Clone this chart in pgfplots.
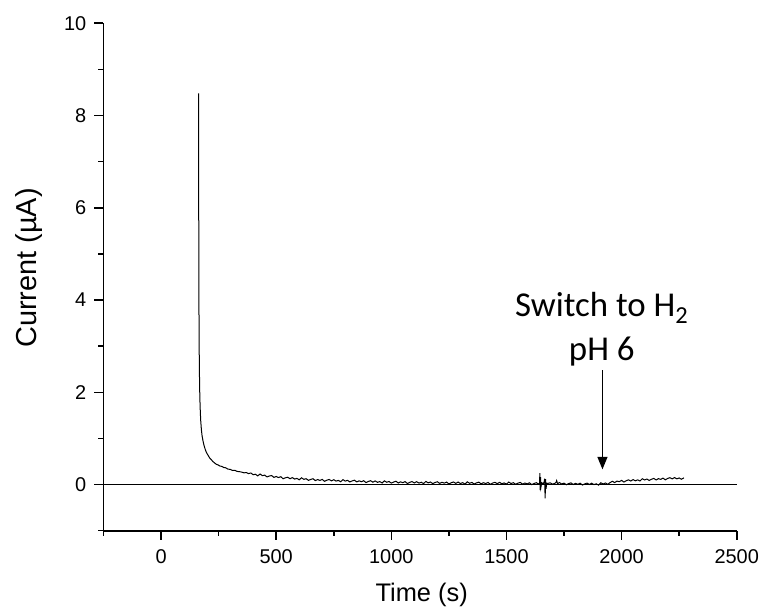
\documentclass[border=0pt]{standalone}
\usepackage{pgfplots}
\pgfplotsset{compat=1.18}
\usetikzlibrary{arrows.meta}
\usepackage{fontspec}
\setmainfont{Liberation Sans}
\newfontfamily\calibri{Carlito}
\begin{document}
\begin{tikzpicture}
\useasboundingbox (0,0) rectangle (763bp,607bp);
\begin{axis}[
  at={(103.5bp,76.3bp)}, anchor=south west,
  scale only axis, width=633.2bp, height=507.4bp,
  xmin=-250, xmax=2500, ymin=-1, ymax=10,
  axis lines=left,
  x axis line style={-, line width=1.8bp, black},
  y axis line style={-, line width=1.8bp, black},
  tick align=outside,
  every tick/.style={line width=1.6bp, black},
  major tick length=9bp, minor tick length=5bp,
  xtick={0,500,...,2500}, minor xtick={-250,250,...,2250},
  ytick={0,2,...,10}, minor ytick={-1,1,...,9},
  xticklabel={\fontsize{20}{24}\selectfont\pgfmathprintnumber[assume math mode=true,set thousands separator={}]{\tick}},
  yticklabel={\fontsize{20}{24}\selectfont\pgfmathprintnumber[assume math mode=true]{\tick}},
  xticklabel style={inner sep=0pt, anchor=north, yshift=-10bp},
  yticklabel style={inner sep=0pt, anchor=east, xshift=-8bp},
  scaled ticks=false,
  clip=false,
]
\addplot[black, line width=1.7bp] coordinates {(-250,0) (2500,0)};
\addplot[black, line width=1bp] coordinates {
(163,8.48) (163.4,6.8) (163.8,5.2) (164.3,4.2) (165,3.4) (166,2.7) (167.5,2.1) (169.5,1.7)
(172,1.4) (175,1.2) (178,1.06) (182,0.95) (186,0.86) (190,0.79) (195,0.72) (200,0.67)
(206,0.62) (212,0.57) (218,0.54) (225,0.50) (232,0.47) (240,0.44) (248,0.425) (256,0.40)
(264,0.395) (272,0.37) (280,0.365) (290,0.335) (300,0.33) (310,0.305) (320,0.31) (330,0.285)
(340,0.28) (350,0.27) (360,0.255) (370,0.26) (380,0.238)
(390,0.251) (400,0.213) (410,0.224) (420,0.188) (430,0.229) (440,0.193) (450,0.205) (460,0.166)
(470,0.185) (480,0.196) (490,0.155) (500,0.175) (510,0.152) (520,0.171) (530,0.126) (540,0.147)
(550,0.159) (560,0.127) (570,0.152) (580,0.119) (590,0.134) (600,0.103) (610,0.147) (620,0.113)
(630,0.128) (640,0.091) (650,0.112) (660,0.126) (670,0.086) (680,0.109) (690,0.090) (700,0.112)
(710,0.070) (720,0.095) (730,0.110) (740,0.080) (750,0.106) (760,0.075) (770,0.091) (780,0.061)
(790,0.107) (800,0.075) (810,0.092) (820,0.057) (830,0.080) (840,0.095) (850,0.058) (860,0.081)
(870,0.062) (880,0.084) (890,0.043) (900,0.067) (910,0.083) (920,0.052) (930,0.079) (940,0.048)
(950,0.065) (960,0.035) (970,0.081) (980,0.050) (990,0.066) (1000,0.032) (1010,0.055) (1020,0.072)
(1030,0.035) (1040,0.059) (1050,0.041) (1060,0.064) (1070,0.023) (1080,0.048) (1090,0.065) (1100,0.035)
(1110,0.063) (1120,0.032) (1130,0.050) (1140,0.021) (1150,0.068) (1160,0.037) (1170,0.055) (1180,0.021)
(1190,0.045) (1200,0.061) (1210,0.025) (1220,0.049) (1230,0.031) (1240,0.054) (1250,0.014) (1260,0.039)
(1270,0.056) (1280,0.026) (1290,0.054) (1300,0.023) (1310,0.041) (1320,0.012) (1330,0.059) (1340,0.028)
(1350,0.046) (1360,0.012) (1370,0.036) (1380,0.052) (1390,0.016) (1400,0.040) (1410,0.022) (1420,0.046)
(1430,0.006) (1440,0.032) (1450,0.049) (1460,0.020) (1470,0.048) (1480,0.018) (1490,0.036) (1500,0.008)
(1510,0.054) (1520,0.023) (1530,0.041) (1540,0.007) (1550,0.030) (1560,0.046) (1570,0.009) (1580,0.034)
(1590,0.015) (1600,0.038) (1610,-0.002) (1620,0.024) (1630,0.040) (1640,0.011)
(1644,0.03) (1645,0.25) (1646.5,-0.12) (1648,0.16) (1650,-0.05) (1653,0.04) (1660,0.02) (1664,0.06)
(1666,0.13) (1668,-0.30) (1670,0.12) (1672,-0.09) (1675,0.03) (1680,0.025)
(1690,0.038) (1700,0.008) (1710,0.026) (1716,0.05) (1718,0.085) (1722,0.02) (1730,0.044) (1740,0.013)
(1750,0.031) (1760,-0.003) (1770,0.021) (1780,0.037) (1790,0.001) (1800,0.025) (1810,0.007) (1820,0.030)
(1830,-0.011) (1840,0.015) (1850,0.032) (1860,0.002) (1870,0.030) (1880,-0.001) (1890,0.017) (1900,-0.012)
(1910,0.039) (1920,0.013) (1930,0.034) (1940,0.005) (1950,0.042) (1960,0.071) (1970,0.043) (1980,0.075)
(1990,0.062) (2000,0.091) (2010,0.054) (2020,0.083) (2030,0.103) (2040,0.077) (2050,0.108) (2060,0.081)
(2070,0.102) (2080,0.077) (2090,0.127) (2100,0.100) (2110,0.120) (2120,0.089) (2130,0.115) (2140,0.134)
(2150,0.100) (2160,0.128) (2170,0.113) (2180,0.140) (2190,0.103) (2200,0.132) (2210,0.150) (2220,0.123)
(2230,0.152) (2240,0.124) (2250,0.143) (2260,0.116) (2271,0.145)
};
\draw[-{Triangle[length=12.5bp,width=10bp]}, line width=1.2bp] (axis cs:1917,2.48) -- (axis cs:1917,0.33);
\node[anchor=base, font=\calibri\fontsize{35}{42}\selectfont, inner sep=0pt] at (axis cs:1914,3.65) {Switch to H\textsubscript{2}};
\node[anchor=base, font=\calibri\fontsize{35}{42}\selectfont, inner sep=0pt] at (axis cs:1914,2.69) {pH 6};
\end{axis}
\node[anchor=base, font=\fontsize{25.5}{30}\selectfont, inner sep=0pt] at (421.7bp,6bp) {Time (s)};
\node[anchor=base, rotate=90, font=\fontsize{29}{34}\selectfont, inner sep=0pt] at (36.7bp,339bp) {Current (µA)};
\end{tikzpicture}
\end{document}
